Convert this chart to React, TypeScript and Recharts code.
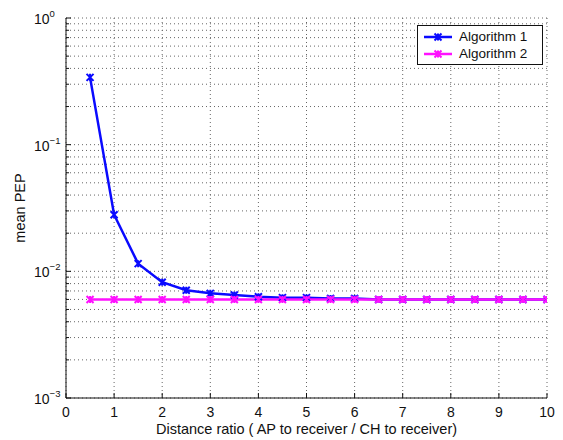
import React from 'react';
import { LineChart, Line, XAxis, YAxis, CartesianGrid, Legend, Label } from 'recharts';

const distanceRatio = [0.5, 1, 1.5, 2, 2.5, 3, 3.5, 4, 4.5, 5, 5.5, 6, 6.5, 7, 7.5, 8, 8.5, 9, 9.5, 10];
const algorithm1 = [0.34, 0.028, 0.0115, 0.0082, 0.0071, 0.0067, 0.0065, 0.0063, 0.0062, 0.0062, 0.0061, 0.0061, 0.006, 0.006, 0.006, 0.006, 0.006, 0.006, 0.006, 0.006];
const algorithm2 = [0.006, 0.006, 0.006, 0.006, 0.006, 0.006, 0.006, 0.006, 0.006, 0.006, 0.006, 0.006, 0.006, 0.006, 0.006, 0.006, 0.006, 0.006, 0.006, 0.006];
const seriesNames = ['Algorithm 1', 'Algorithm 2'];
const seriesColors = ['#0a0aff', '#ff10ff'];
const xTicks = [0, 1, 2, 3, 4, 5, 6, 7, 8, 9, 10];
const yMajorTicks = [0.001, 0.01, 0.1, 1];
const yMajorLabels = ['−3', '−2', '−1', '0'];
const yAllTicks = [
  0.001, 0.002, 0.003, 0.004, 0.005, 0.006, 0.007, 0.008, 0.009,
  0.01, 0.02, 0.03, 0.04, 0.05, 0.06, 0.07, 0.08, 0.09,
  0.1, 0.2, 0.3, 0.4, 0.5, 0.6, 0.7, 0.8, 0.9, 1,
];
const xLabel = 'Distance ratio ( AP to receiver / CH to receiver)';
const yLabel = 'mean PEP';

const data = distanceRatio.map((x, i) => ({ x, a1: algorithm1[i], a2: algorithm2[i] }));

const FONT = "'Liberation Sans', Arial, Helvetica, sans-serif";
const AXIS = '#111';

const isMajor = (v: number) => yMajorTicks.some((m) => Math.abs(m - v) < 1e-12);

const XBottomTick = (props: any) => {
  const { x, y, payload } = props;
  return (
    <g>
      <line x1={x} y1={y} x2={x} y2={y - 5} stroke={AXIS} strokeWidth={1} />
      <text x={x} y={y + 19} textAnchor="middle" fontSize={14} fontFamily={FONT} fill="#111">
        {payload.value}
      </text>
    </g>
  );
};

const XTopTick = (props: any) => {
  const { x, y } = props;
  return <line x1={x} y1={y} x2={x} y2={y + 5} stroke={AXIS} strokeWidth={1} />;
};

const YLeftTick = (props: any) => {
  const { x, y, payload } = props;
  const major = isMajor(payload.value);
  const idx = yMajorTicks.findIndex((m) => Math.abs(m - payload.value) < 1e-12);
  return (
    <g>
      <line x1={x} y1={y} x2={x + (major ? 5 : 3)} y2={y} stroke={AXIS} strokeWidth={1} />
      {major && (
        <text x={x - 32} y={y + 6} textAnchor="start" fontSize={14} fontFamily={FONT} fill="#111">
          <tspan>10</tspan>
          <tspan dy={-7} fontSize={9.5}>{yMajorLabels[idx]}</tspan>
        </text>
      )}
    </g>
  );
};

const YRightTick = (props: any) => {
  const { x, y, payload } = props;
  const major = isMajor(payload.value);
  return <line x1={x} y1={y} x2={x - (major ? 5 : 3)} y2={y} stroke={AXIS} strokeWidth={1} />;
};

const makeDot = (color: string) => (props: any) => {
  const { cx, cy, index } = props;
  if (cx == null || cy == null) return <g key={`d${index}`} />;
  const s = 3.5;
  return (
    <path
      key={`d${index}`}
      d={`M${cx - s},${cy - s}L${cx + s},${cy + s}M${cx - s},${cy + s}L${cx + s},${cy - s}M${cx},${cy - s}L${cx},${cy + s}`}
      stroke={color}
      strokeWidth={2}
      fill="none"
    />
  );
};

const LegendBox = () => (
  <div
    style={{
      boxSizing: 'border-box',
      width: 126,
      border: '1px solid #111',
      background: '#fff',
      padding: '2px 4px 2px 5px',
      fontFamily: FONT,
      fontSize: 13.5,
      color: '#111',
      lineHeight: '17px',
    }}
  >
    {seriesNames.map((name, i) => (
      <div key={name} style={{ display: 'flex', alignItems: 'center' }}>
        <svg width={30} height={12} style={{ marginRight: 6 }}>
          <line x1={1} y1={6} x2={29} y2={6} stroke={seriesColors[i]} strokeWidth={2.5} />
          <path d="M11.5,2.5L18.5,9.5M11.5,9.5L18.5,2.5M15,2.5L15,9.5" stroke={seriesColors[i]} strokeWidth={2} />
        </svg>
        <span>{name}</span>
      </div>
    ))}
  </div>
);

export default function App() {
  return (
    <div style={{ position: 'absolute', left: 0, top: 0, width: 563, height: 440, background: '#fff' }}>
      <LineChart width={563} height={440} data={data} margin={{ top: 18, right: 16, bottom: 0, left: 0 }}>
        <CartesianGrid stroke="#666" strokeDasharray="1 3" />
        <XAxis
          dataKey="x"
          type="number"
          domain={[0, 10]}
          ticks={xTicks}
          interval={0}
          height={42}
          tickSize={0}
          tickMargin={0}
          tickLine={false}
          axisLine={{ stroke: AXIS }}
          tick={<XBottomTick />}
          allowDataOverflow
        >
          <Label
            content={(p: any) => {
              const vb = p.viewBox;
              return (
                <text x={vb.x + vb.width / 2} y={vb.y + 36} textAnchor="middle" fontSize={14.5} fontFamily={FONT} fill="#111">
                  {xLabel}
                </text>
              );
            }}
          />
        </XAxis>
        <XAxis
          xAxisId="top"
          orientation="top"
          dataKey="x"
          type="number"
          domain={[0, 10]}
          ticks={xTicks}
          interval={0}
          height={0}
          tickSize={0}
          tickMargin={0}
          tickLine={false}
          axisLine={{ stroke: AXIS }}
          tick={<XTopTick />}
          allowDataOverflow
        />
        <YAxis
          scale="log"
          type="number"
          domain={[0.001, 1]}
          ticks={yAllTicks}
          interval={0}
          width={66}
          tickSize={0}
          tickMargin={0}
          tickLine={false}
          axisLine={{ stroke: AXIS }}
          tick={<YLeftTick />}
          allowDataOverflow
        >
          <Label
            content={(p: any) => {
              const vb = p.viewBox;
              const cx = vb.x + 25;
              const cy = vb.y + vb.height / 2;
              return (
                <text x={cx} y={cy} transform={`rotate(-90 ${cx} ${cy})`} textAnchor="middle" fontSize={14.5} fontFamily={FONT} fill="#111">
                  {yLabel}
                </text>
              );
            }}
          />
        </YAxis>
        <YAxis
          yAxisId="right"
          orientation="right"
          scale="log"
          type="number"
          domain={[0.001, 1]}
          ticks={yAllTicks}
          interval={0}
          width={0}
          tickSize={0}
          tickMargin={0}
          tickLine={false}
          axisLine={{ stroke: AXIS }}
          tick={<YRightTick />}
          allowDataOverflow
        />
        <Legend
          layout="vertical"
          align="center"
          verticalAlign="middle"
          content={() => <LegendBox />}
          wrapperStyle={{ position: 'absolute', left: 417, top: 25, width: 'auto' }}
        />
        <Line
          dataKey="a1"
          name={seriesNames[0]}
          stroke={seriesColors[0]}
          strokeWidth={2.5}
          type="linear"
          dot={makeDot(seriesColors[0])}
          activeDot={false}
          isAnimationActive={false}
        />
        <Line
          dataKey="a2"
          name={seriesNames[1]}
          stroke={seriesColors[1]}
          strokeWidth={2.5}
          type="linear"
          dot={makeDot(seriesColors[1])}
          activeDot={false}
          isAnimationActive={false}
        />
      </LineChart>
    </div>
  );
}
